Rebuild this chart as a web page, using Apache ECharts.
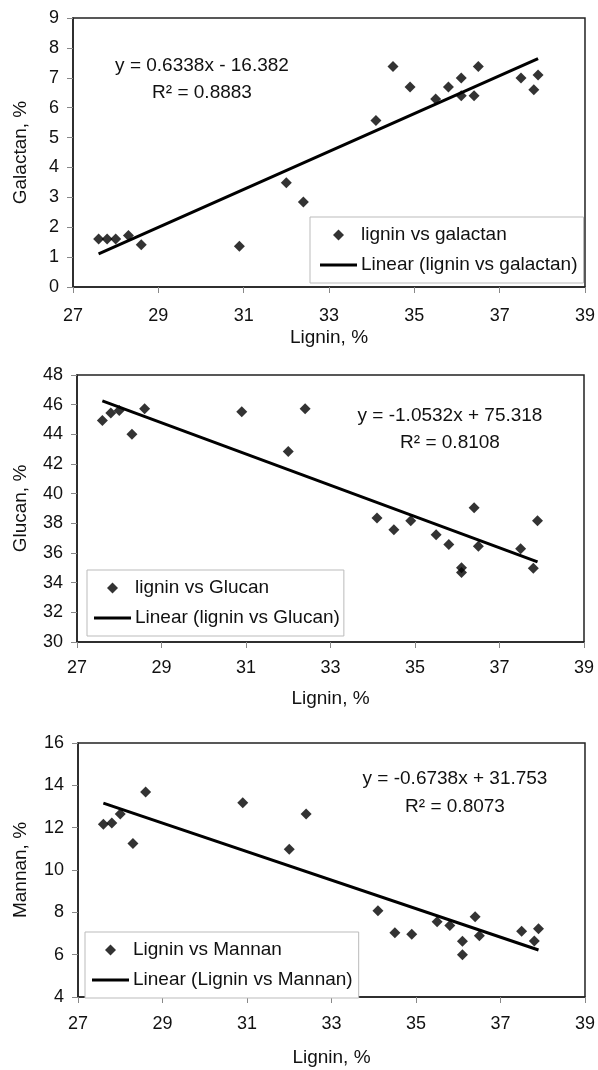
<!DOCTYPE html>
<html>
<head>
<meta charset="utf-8">
<script src="https://cdn.jsdelivr.net/npm/echarts@6/dist/echarts.min.js"></script>
<style>
html,body{margin:0;padding:0;background:#fff;}
#chart{width:598px;height:1070px;}
</style>
</head>
<body>
<div id="chart"></div>
<script>
// ---- data ----
const xTicks = [27, 29, 31, 33, 35, 37, 39];

const galLignin = [27.6, 27.8, 28.0, 28.3, 28.6, 30.9, 32.0, 32.4, 34.1, 34.5, 34.9, 35.5, 35.8, 36.1, 36.1, 36.4, 36.5, 37.5, 37.8, 37.9];
const galactan  = [1.61, 1.61, 1.61, 1.72, 1.41, 1.36, 3.49, 2.84, 5.57, 7.38, 6.69, 6.29, 6.69, 6.99, 6.40, 6.40, 7.38, 6.99, 6.60, 7.09];

const gluLignin = [27.6, 27.8, 28.0, 28.3, 28.6, 30.9, 32.0, 32.4, 34.1, 34.5, 34.9, 35.5, 35.8, 36.1, 36.1, 36.4, 36.5, 37.5, 37.8, 37.9];
const glucan    = [44.93, 45.43, 45.61, 44.01, 45.72, 45.52, 42.84, 45.72, 38.36, 37.57, 38.18, 37.23, 36.58, 35.00, 34.68, 39.05, 36.46, 36.28, 34.98, 38.18];

const manLignin = [27.6, 27.8, 28.0, 28.3, 28.6, 30.9, 32.0, 32.4, 34.1, 34.5, 34.9, 35.5, 35.8, 36.1, 36.1, 36.4, 36.5, 37.5, 37.8, 37.9];
const mannan    = [12.16, 12.22, 12.65, 11.25, 13.69, 13.18, 10.98, 12.65, 8.07, 7.03, 6.96, 7.55, 7.38, 6.63, 6.00, 7.79, 6.89, 7.11, 6.64, 7.22];

const trendX    = [27.6, 37.9];
const galTrendY = [1.11, 7.64];
const gluTrendY = [46.25, 35.40];
const manTrendY = [13.16, 6.22];

const seriesNames = ['lignin vs galactan', 'lignin vs Glucan', 'Lignin vs Mannan'];
const trendNames  = ['Linear (lignin vs galactan)', 'Linear (lignin vs Glucan)', 'Linear (Lignin vs Mannan)'];
const yNames      = ['Galactan, %', 'Glucan, %', 'Mannan, %'];
const xName       = 'Lignin, %';
const yRanges     = [[0, 9, 1], [30, 48, 2], [4, 16, 2]];
const eqLines     = [['y = 0.6338x - 16.382', 'R\u00B2 = 0.8883'],
                     ['y = -1.0532x + 75.318', 'R\u00B2 = 0.8108'],
                     ['y = -0.6738x + 31.753', 'R\u00B2 = 0.8073']];

// ---- layout / style ----
const FONT = 'Liberation Sans, Arial, sans-serif';
const INK = '#111';
const grids = [
  {left: 73, top: 18,  width: 514, height: 269},
  {left: 77, top: 375, width: 507, height: 267},
  {left: 78, top: 743, width: 509, height: 254}
];
const xNameGaps = [41, 47, 51];
const xLabelMargins = [20, 17, 18];
const yNameGaps = [43, 47, 48];
const legendPos = [
  {left: 310, top: 217, padding: [8, 6, 8, 10]},
  {left: 87,  top: 570, padding: [8, 4, 8, 7]},
  {left: 85,  top: 932, padding: [8, 6, 8, 7]}
];
const eqPos = [[202, 66, 93], [450, 416, 443], [455, 779, 807]];

const diamondIcon = 'path://M5,0L10,5L5,10L0,5Z';
const lineIcon = 'path://M0,0H37V3H0Z';

function pairs(xs, ys) { return xs.map((x, i) => [x, ys[i]]); }
const scatterData = [pairs(galLignin, galactan), pairs(gluLignin, glucan), pairs(manLignin, mannan)];
const trendData = [pairs(trendX, galTrendY), pairs(trendX, gluTrendY), pairs(trendX, manTrendY)];

const option = {
  backgroundColor: '#fff',
  animation: false,
  textStyle: {fontFamily: FONT, color: INK},
  grid: grids.map(g => Object.assign({show: true, borderColor: '#222', borderWidth: 1.5, backgroundColor: 'transparent'}, g)),
  xAxis: grids.map((g, i) => ({
    type: 'value', gridIndex: i, min: xTicks[0], max: xTicks[xTicks.length - 1], interval: 2,
    name: xName, nameLocation: 'middle', nameGap: xNameGaps[i],
    nameTextStyle: {fontSize: 19, color: INK, fontFamily: FONT},
    axisLine: {show: true, lineStyle: {color: '#222', width: 1.5}},
    axisTick: {show: true, inside: false, length: 6, lineStyle: {color: '#888'}},
    axisLabel: {fontSize: 18, color: INK, margin: xLabelMargins[i], fontFamily: FONT},
    splitLine: {show: false}
  })),
  yAxis: grids.map((g, i) => ({
    type: 'value', gridIndex: i, min: yRanges[i][0], max: yRanges[i][1], interval: yRanges[i][2],
    name: yNames[i], nameLocation: 'middle', nameGap: yNameGaps[i], nameRotate: 90,
    nameTextStyle: {fontSize: 19, color: INK, fontFamily: FONT},
    axisLine: {show: true, lineStyle: {color: '#222', width: 1.5}},
    axisTick: {show: true, inside: false, length: 6, lineStyle: {color: '#888'}},
    axisLabel: {fontSize: 18, color: INK, margin: 14, fontFamily: FONT},
    splitLine: {show: false}
  })),
  legend: legendPos.map((p, i) => ({
    orient: 'vertical', left: p.left, top: p.top, padding: p.padding,
    backgroundColor: '#fff', borderColor: '#bbb', borderWidth: 1, borderRadius: 0,
    itemWidth: 37, itemHeight: 11, itemGap: 10,
    itemStyle: {borderWidth: 0},
    selectedMode: false,
    textStyle: {fontSize: 19, color: INK, fontFamily: FONT, lineHeight: 20, padding: [0, 0, 0, -1]},
    data: [{name: seriesNames[i], icon: diamondIcon}, {name: trendNames[i], icon: lineIcon}]
  })),
  series: [].concat(
    grids.map((g, i) => ({
      type: 'line', name: trendNames[i], xAxisIndex: i, yAxisIndex: i,
      data: trendData[i], symbol: 'none', z: 2,
      itemStyle: {color: '#000'}, lineStyle: {color: '#000', width: 3}
    })),
    grids.map((g, i) => ({
      type: 'scatter', name: seriesNames[i], xAxisIndex: i, yAxisIndex: i,
      data: scatterData[i], symbol: 'diamond', symbolSize: 11, z: 3,
      itemStyle: {color: '#000'}
    }))
  ),
  graphic: [].concat(...eqPos.map((p, i) => [
    {type: 'text', x: p[0], y: p[1], style: {text: eqLines[i][0], font: '19px ' + FONT, fill: INK, textAlign: 'center', textVerticalAlign: 'middle'}},
    {type: 'text', x: p[0], y: p[2], style: {text: eqLines[i][1], font: '19px ' + FONT, fill: INK, textAlign: 'center', textVerticalAlign: 'middle'}}
  ]))
};

const chart = echarts.init(document.getElementById('chart'), null, {renderer: 'canvas'});
chart.setOption(option);
</script>
</body>
</html>
